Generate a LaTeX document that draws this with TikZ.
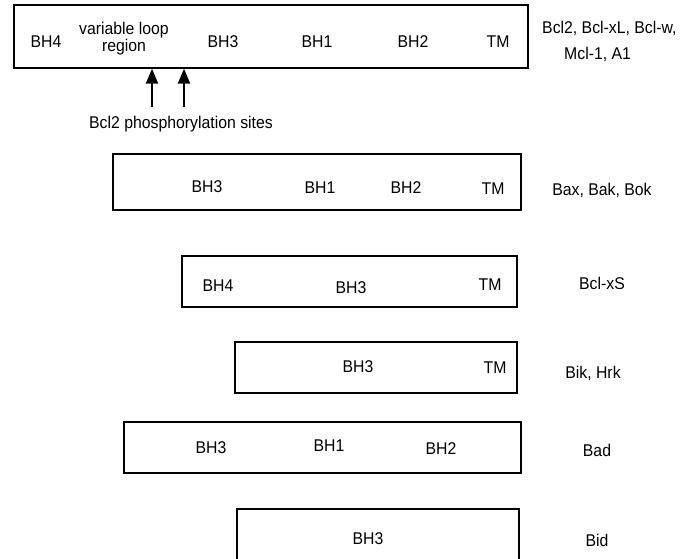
\documentclass[tikz,border=0pt]{standalone}
\usepackage{fontspec}
\setmainfont{Liberation Sans}[FakeStretch=0.93]
\usepackage{tikz}
\usetikzlibrary{arrows.meta}
\tikzset{
    protein/.style={draw, line width=1.2pt, inner sep=0pt},
    domainlabel/.style={anchor=base, inner sep=0pt},
    family/.style={anchor=base, inner sep=0pt},
    site/.style={line width=2pt, -{Triangle[width=12pt,length=15pt]}}
}
\begin{document}
\begin{tikzpicture}[x=1pt, y=-1pt, font=\fontsize{17}{17}\selectfont]
                \useasboundingbox (0,0) rectangle (695,558);
                \clip (0,0) rectangle (695,558);
                % Bcl2 type
                \node[protein, minimum width=514pt, minimum height=63pt] (bcl) at (271,36.5) {};
                \foreach \x/\xtext in {46/BH4, 223/BH3, 317/BH1, 413/BH2, 498/TM} \node[domainlabel] (bcl-\xtext) at (\x,47.5) {\xtext};
                \node[align=center, inner sep=0pt] (bcl-loop) at (124,39) {variable loop\\region};
                \node[family, anchor=base west] (bcl-name) at (542,33) {Bcl2, Bcl-xL, Bcl-w,};
                \node[family, anchor=base west] (bcl-name2) at (564,59) {Mcl-1, A1};
                \coordinate (site1) at (152,107);
                \coordinate (site2) at (184,107);
                \draw[site] (site1) -- (site1 |- bcl.south);
                \draw[site] (site2) -- (site2 |- bcl.south);
                \node[family] (sites) at (181,128.5) {Bcl2 phosphorylation sites};
                % Bax type
                \node[protein, minimum width=408pt, minimum height=56pt] (bax) at (317,182) {};
                \foreach \x/\y/\xtext in {207/192.5/BH3, 320/193/BH1, 406/193.5/BH2, 493/194/TM} \node[domainlabel] (bax-\xtext) at (\x,\y) {\xtext};
                \node[family] (bax-name) at (602,195) {Bax, Bak, Bok};
                % Bcl-xS
                \node[protein, minimum width=335pt, minimum height=51pt] (bclxs) at (349.5,281.5) {};
                \foreach \x/\y/\xtext in {218/291.5/BH4, 351/293.5/BH3, 490/290.5/TM} \node[domainlabel] (bclxs-\xtext) at (\x,\y) {\xtext};
                \node[family] (bclxs-name) at (602,289.5) {Bcl-xS};
                % Bik
                \node[protein, minimum width=282pt, minimum height=51pt] (bik) at (376,367.5) {};
                \foreach \x/\y/\xtext in {358/372/BH3, 495/373/TM} \node[domainlabel] (bik-\xtext) at (\x,\y) {\xtext};
                \node[family] (bik-name) at (593,378.5) {Bik, Hrk};
                % Bad
                \node[protein, minimum width=397pt, minimum height=51pt] (bad) at (322.5,447.5) {};
                \foreach \x/\y/\xtext in {211/453.5/BH3, 329/451.5/BH1, 441/454.5/BH2} \node[domainlabel] (bad-\xtext) at (\x,\y) {\xtext};
                \node[family] (bad-name) at (597,456.5) {Bad};
                % Bid
                \node[protein, minimum width=282pt, minimum height=66pt] (bid) at (378,542) {};
                \node[domainlabel] (bid-BH3) at (368,544.5) {BH3};
                \node[family] (bid-name) at (597,546.5) {Bid};
            \end{tikzpicture}
\end{document}
